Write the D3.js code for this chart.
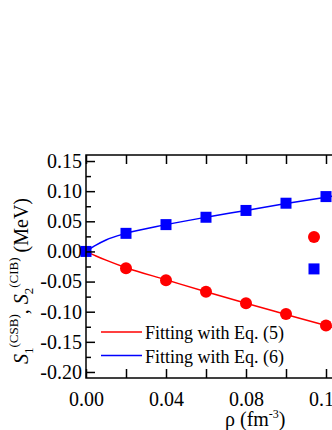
<!DOCTYPE html>
<html><head><meta charset="utf-8">
<script src="https://cdn.jsdelivr.net/npm/d3@7"></script>
<style>body{margin:0;background:#fff}svg{display:block}text{font-family:"Liberation Serif","Times New Roman",serif;fill:#000}</style>
</head><body><div id="chart"></div>
<script>
// Data
const rho = [0, 0.02, 0.04, 0.06, 0.08, 0.10, 0.12];
const sCSB = [0, -0.028, -0.048, -0.067, -0.086, -0.104, -0.123];
const sCIB = [0, 0.030, 0.0445, 0.0567, 0.068, 0.080, 0.091];
const fitRho = [0, 0.005, 0.01, 0.02, 0.04, 0.06, 0.08, 0.10, 0.12, 0.13];
const fitCSB = [0, -0.0075, -0.0145, -0.027, -0.047, -0.067, -0.086, -0.1045, -0.123, -0.132];
const fitCIB = [0, 0.0105, 0.019, 0.030, 0.0445, 0.0567, 0.068, 0.0795, 0.090, 0.095];
const extraRho = [0.114, 0.114];
const extraVal = [0.024, -0.029];
const xTicks = [0, 0.02, 0.04, 0.06, 0.08, 0.10, 0.12];
const xTickLabels = ["0.00", "", "0.04", "", "0.08", "", "0.12"];
const yTicks = [0.15, 0.10, 0.05, 0.00, -0.05, -0.10, -0.15, -0.20];
const yTickLabels = ["0.15", "0.10", "0.05", "0.00", "-0.05", "-0.10", "-0.15", "-0.20"];
const yMinor = [0.125, 0.075, 0.025, -0.025, -0.075, -0.125, -0.175];
const legendLabels = ["Fitting with Eq. (5)", "Fitting with Eq. (6)"];
const RED = "#ff0000", BLUE = "#0000ff";

const W = 332, H = 430;
const svg = d3.select("#chart").append("svg").attr("width", W).attr("height", H);
const L = 86, R = 366, T = 155, B = 378;
const x = d3.scaleLinear().domain([0, 0.14]).range([L, R]);
const y = d3.scaleLinear().domain([-0.21, 0.16]).range([B, T]);

// fit lines
const line = d3.line().x(d => x(d[0])).y(d => y(d[1])).curve(d3.curveMonotoneX);
svg.append("path").datum(fitRho.map((r, i) => [r, fitCSB[i]]))
  .attr("d", line).attr("fill", "none").attr("stroke", RED).attr("stroke-width", 1.5);
svg.append("path").datum(fitRho.map((r, i) => [r, fitCIB[i]]))
  .attr("d", line).attr("fill", "none").attr("stroke", BLUE).attr("stroke-width", 1.5);

// markers
svg.append("g").selectAll("circle").data(rho.slice(1)).join("circle")
  .attr("cx", d => x(d)).attr("cy", (d, i) => y(sCSB[i + 1])).attr("r", 6).attr("fill", RED);
const sq = 11;
svg.append("g").selectAll("rect").data(rho).join("rect")
  .attr("x", d => x(d) - sq / 2).attr("y", (d, i) => y(sCIB[i]) - sq / 2)
  .attr("width", sq).attr("height", sq).attr("fill", BLUE);
// extra symbols
svg.append("circle").attr("cx", x(extraRho[0])).attr("cy", y(extraVal[0])).attr("r", 6).attr("fill", RED);
svg.append("rect").attr("x", x(extraRho[1]) - sq / 2).attr("y", y(extraVal[1]) - sq / 2)
  .attr("width", sq).attr("height", sq).attr("fill", BLUE);

// frame
svg.append("rect").attr("x", L).attr("y", T).attr("width", R - L).attr("height", B - T)
  .attr("fill", "none").attr("stroke", "#000").attr("stroke-width", 1.5);

// axes
const gx = svg.append("g").attr("transform", `translate(0,${B})`)
  .call(d3.axisBottom(x).tickValues(xTicks).tickSize(-9).tickPadding(14).tickFormat((d, i) => xTickLabels[i]));
const gxt = svg.append("g").attr("transform", `translate(0,${T})`)
  .call(d3.axisTop(x).tickValues(xTicks).tickSize(-9).tickFormat(""));
const gy = svg.append("g").attr("transform", `translate(${L},0)`)
  .call(d3.axisLeft(y).tickValues(yTicks).tickSize(-9).tickPadding(4).tickFormat((d, i) => yTickLabels[i]));
const gym = svg.append("g").attr("transform", `translate(${L},0)`)
  .call(d3.axisLeft(y).tickValues(yMinor).tickSize(-5).tickFormat(""));
[gx, gxt, gy, gym].forEach(g => {
  g.select(".domain").remove();
  g.selectAll("line").attr("stroke", "#000").attr("stroke-width", 1.5);
  g.selectAll("text").style("font-family", '"Liberation Serif",serif').style("font-size", "20px").attr("fill", "#000");
});
gx.selectAll("text").attr("dy", "0.71em");

// legend
legendLabels.forEach((t, i) => {
  const ly = 332 + i * 23.5;
  svg.append("line").attr("x1", 101).attr("x2", 142).attr("y1", ly).attr("y2", ly)
    .attr("stroke", i === 0 ? RED : BLUE).attr("stroke-width", 1.5);
  svg.append("text").attr("x", 145).attr("y", ly + 7).style("font-size", "18px").text(t);
});

// x title
const xt = svg.append("text").attr("x", 225).attr("y", 426).style("font-size", "20px");
xt.append("tspan").text("ρ (fm");
xt.append("tspan").attr("dy", -8).style("font-size", "12px").text("-3");
xt.append("tspan").attr("dy", 8).text(")");

// y title
const yt = svg.append("text").attr("transform", "translate(28,281) rotate(-90)")
  .attr("text-anchor", "middle").style("font-size", "20px");
yt.append("tspan").style("font-style", "italic").text("S");
yt.append("tspan").attr("dy", 5).style("font-size", "13px").text("1");
yt.append("tspan").attr("dy", -15).style("font-size", "13px").text("(CSB)");
yt.append("tspan").attr("dy", 10).text(", ");
yt.append("tspan").style("font-style", "italic").text("S");
yt.append("tspan").attr("dy", 5).style("font-size", "13px").text("2");
yt.append("tspan").attr("dy", -15).style("font-size", "13px").text("(CIB)");
yt.append("tspan").attr("dy", 10).text(" (MeV)");
</script></body></html>
